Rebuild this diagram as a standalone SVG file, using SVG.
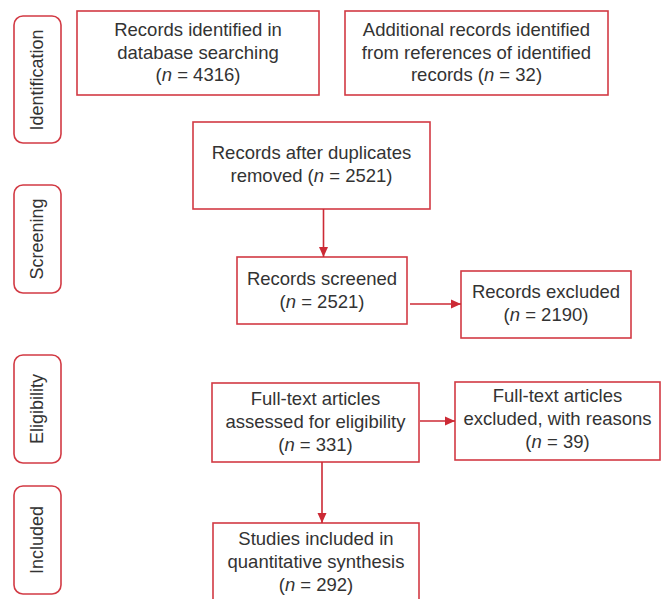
<svg xmlns="http://www.w3.org/2000/svg" width="662" height="599" viewBox="0 0 662 599">
<defs>
<style>
.box{fill:#fff;stroke:#d23a44;stroke-width:1.6}
.pill{fill:#fff;stroke:#d23a44;stroke-width:1.6}
.t{font-family:"Liberation Sans",Arial,sans-serif;font-size:18.5px;fill:#333;text-anchor:middle}
.p{font-family:"Liberation Sans",Arial,sans-serif;font-size:18px;fill:#333;text-anchor:middle}
.c{stroke:#cc2a35;stroke-width:1.6;fill:none}
.i{font-style:italic}
</style>
<marker id="ah" markerUnits="userSpaceOnUse" markerWidth="10" markerHeight="10" viewBox="0 0 10 10" refX="10" refY="5" orient="auto">
<path d="M0,0.5 L10,5 L0,9.5 Z" fill="#cc2a35"/>
</marker>
</defs>
<rect width="662" height="599" fill="#fff"/>

<g id="phase-identification">
<rect class="pill" x="14" y="16" width="47" height="127" rx="9"/>
<text class="p" transform="translate(43,80) rotate(-90)">Identification</text>
</g>
<g id="phase-screening">
<rect class="pill" x="14" y="185" width="47" height="108" rx="9"/>
<text class="p" transform="translate(43,239) rotate(-90)">Screening</text>
</g>
<g id="phase-eligibility">
<rect class="pill" x="14" y="355" width="47" height="108" rx="9"/>
<text class="p" transform="translate(43,409) rotate(-90)">Eligibility</text>
</g>
<g id="phase-included">
<rect class="pill" x="14" y="486" width="47" height="108" rx="9"/>
<text class="p" transform="translate(43,540) rotate(-90)">Included</text>
</g>

<g id="db-records">
<rect class="box" x="77" y="11" width="242" height="84"/>
<text class="t" x="198" y="36">Records identified in</text>
<text class="t" x="198" y="58.5">database searching</text>
<text class="t" x="198" y="81">(<tspan class="i">n</tspan> = 4316)</text>
</g>
<g id="additional-records">
<rect class="box" x="345" y="11" width="263" height="84"/>
<text class="t" x="476.5" y="36">Additional records identified</text>
<text class="t" x="476.5" y="58.5">from references of identified</text>
<text class="t" x="476.5" y="81">records (<tspan class="i">n</tspan> = 32)</text>
</g>
<g id="dedup">
<rect class="box" x="193" y="122" width="237" height="87"/>
<text class="t" x="311.5" y="159">Records after duplicates</text>
<text class="t" x="311.5" y="182">removed (<tspan class="i">n</tspan> = 2521)</text>
</g>
<g id="screened">
<rect class="box" x="237" y="257" width="170" height="67"/>
<text class="t" x="322" y="285">Records screened</text>
<text class="t" x="322" y="308">(<tspan class="i">n</tspan> = 2521)</text>
</g>
<g id="excluded">
<rect class="box" x="461" y="271" width="170" height="67"/>
<text class="t" x="546" y="298">Records excluded</text>
<text class="t" x="546" y="321">(<tspan class="i">n</tspan> = 2190)</text>
</g>
<g id="fulltext">
<rect class="box" x="212" y="383" width="207" height="79"/>
<text class="t" x="315.5" y="405">Full-text articles</text>
<text class="t" x="315.5" y="428">assessed for eligibility</text>
<text class="t" x="315.5" y="451">(<tspan class="i">n</tspan> = 331)</text>
</g>
<g id="fulltext-excluded">
<rect class="box" x="455" y="382" width="205" height="78"/>
<text class="t" x="557.5" y="402">Full-text articles</text>
<text class="t" x="557.5" y="425">excluded, with reasons</text>
<text class="t" x="557.5" y="448">(<tspan class="i">n</tspan> = 39)</text>
</g>
<g id="included">
<rect class="box" x="213" y="523" width="206" height="90"/>
<text class="t" x="316" y="545">Studies included in</text>
<text class="t" x="316" y="568">quantitative synthesis</text>
<text class="t" x="316" y="591">(<tspan class="i">n</tspan> = 292)</text>
</g>

<g id="connectors">
<line class="c" x1="323.5" y1="209" x2="323.5" y2="257" marker-end="url(#ah)"/>
<line class="c" x1="410" y1="304" x2="461" y2="304" marker-end="url(#ah)"/>
<line class="c" x1="420" y1="421" x2="455" y2="421" marker-end="url(#ah)"/>
<line class="c" x1="322" y1="462" x2="322" y2="523" marker-end="url(#ah)"/>
</g>
</svg>
